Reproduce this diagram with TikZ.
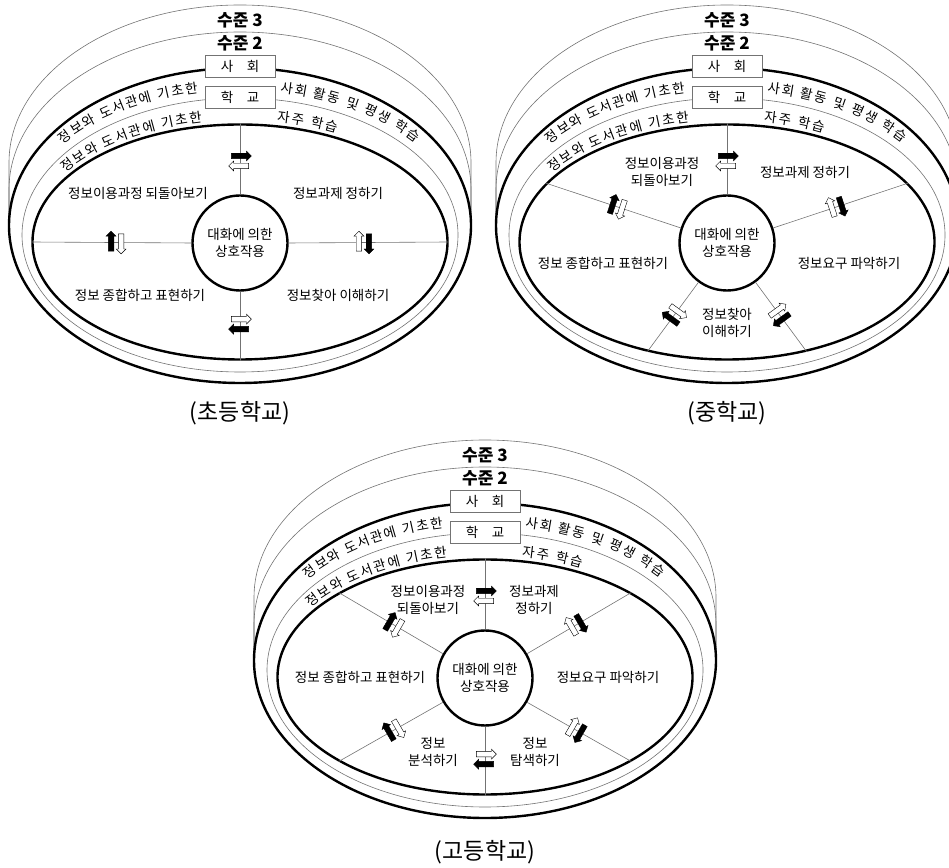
\documentclass[tikz,border=0pt]{standalone}
\usepackage{fontspec}
\setmainfont{Noto Sans CJK KR}
\usetikzlibrary{shapes.geometric,shapes.arrows,decorations.text,calc}

\begin{document}
\begin{tikzpicture}[x=1pt, y=1pt,
    thickline/.style={line width=2.4pt},
    thinline/.style={line width=0.6pt, draw=black!55},
    spoke/.style={line width=0.6pt, black!55},
    levelbox/.style={draw=black!55, line width=0.6pt, fill=white, minimum width=70pt, minimum height=22pt, inner sep=0pt, font=\fontsize{13.5}{15}\selectfont},
    leveltext/.style={font=\fontsize{17}{19}\selectfont\bfseries, inner sep=0pt},
    stage/.style={font=\fontsize{13.5}{17}\selectfont, align=center, inner sep=0pt},
    blackarrow/.style={single arrow, draw=black, fill=black, line width=0.4pt, minimum height=20pt, inner xsep=0pt, inner ysep=2.5pt, single arrow head extend=2.2pt},
    whitearrow/.style={blackarrow, fill=white},
    curvetext/.style={decorate, decoration={text along path, text align=fit to path, text={|\fontsize{13.5}{15}\selectfont|#1}}},
    schoolname/.style={font=\fontsize{23}{26}\selectfont},
    rings/.pic={
        % Level 3 and level 2 rims
        \draw[thinline] (-231,16.5) -- (-231,79.5) arc[start angle=180, end angle=0, x radius=231pt, y radius=157.5pt] -- (231,16.5);
        \draw[thinline] (-231,16.5) -- (-231,52.5) arc[start angle=180, end angle=0, x radius=231pt, y radius=157.5pt] -- (231,16.5);
        % Ellipses
        \node[draw, thickline, ellipse, minimum width=462pt, minimum height=315pt, inner sep=0pt] (-out) at (0,16.5) {};
        \node[thinline, ellipse, minimum width=436pt, minimum height=274pt, inner sep=0pt] (-mid) at (0,7) {};
        \node[draw, thickline, ellipse, minimum width=415pt, minimum height=235pt, inner sep=0pt] (-in) at (0,0) {};
        % Curved labels
        \path[curvetext={정보와 도서관에 기초한}] ($(0,12)+(142.2:224 and 140)$) arc[start angle=142.2, end angle=100.8, x radius=224pt, y radius=140pt];
        \path[curvetext={사회 활동 및 평생 학습}] ($(0,12)+(79.7:224 and 140)$) arc[start angle=79.7, end angle=38.6, x radius=224pt, y radius=140pt];
        \path[curvetext={정보와 도서관에 기초한}] (145.6:212 and 122) arc[start angle=145.6, end angle=100.3, x radius=212pt, y radius=122pt];
        \path[curvetext={자주 학습}] (80:212 and 122) arc[start angle=80, end angle=63, x radius=212pt, y radius=122pt];
        % Levels
        \node[levelbox] (-soc) at (0,176) {사\hspace{1em}회};
        \node[levelbox] (-sch) at (0,144.5) {학\hspace{1em}교};
        \node[leveltext] (-lv3) at (0,222) {수준 3};
        \node[leveltext] (-lv2) at (0,199) {수준 2};
        % Centre
        \node[draw, thickline, circle, minimum size=95pt, stage] (-cc) at (0,-1) {대화에 의한\\상호작용};
    }
]
    \useasboundingbox (0,0) rectangle (949,867);

    % Elementary school
    \pic (e) at (240,625) {rings};
    \foreach \a in {90,0,270,180} {
        \draw[spoke] (e-cc.\a) -- (e-in.\a) coordinate[pos=0.47] (e-m\a);
        \node[blackarrow, rotate=\a-90] (e-b\a) at ($(e-m\a)+(\a:5)$) {};
        \node[whitearrow, rotate=\a+90] (e-w\a) at ($(e-m\a)+(\a:-5)$) {};
    }
    \node[stage] (e-l1) at ($(e-in.center)+(-102,49)$) {정보이용과정 되돌아보기};
    \node[stage] (e-l2) at ($(e-in.center)+(98,49)$) {정보과제 정하기};
    \node[stage] (e-l3) at ($(e-in.center)+(-100,-53)$) {정보 종합하고 표현하기};
    \node[stage] (e-l4) at ($(e-in.center)+(98,-53)$) {정보찾아 이해하기};
    \node[schoolname] (e-name) at (240,454) {(초등학교)};

    % Middle school
    \pic (m) at (727,625) {rings};
    \foreach \a in {90,18,306,234,162} {
        \draw[spoke] (m-cc.\a) -- (m-in.\a) coordinate[pos=0.47] (m-m\a);
        \node[blackarrow, rotate=\a-90] (m-b\a) at ($(m-m\a)+(\a:5)$) {};
        \node[whitearrow, rotate=\a+90] (m-w\a) at ($(m-m\a)+(\a:-5)$) {};
    }
    \node[stage] (m-l1) at ($(m-in.center)+(-65,70)$) {정보이용과정\\되돌아보기};
    \node[stage] (m-l2) at ($(m-in.center)+(78,70)$) {정보과제 정하기};
    \node[stage] (m-l3) at ($(m-in.center)+(-124,-21)$) {정보 종합하고 표현하기};
    \node[stage] (m-l4) at ($(m-in.center)+(122,-21)$) {정보요구 파악하기};
    \node[stage] (m-l5) at ($(m-in.center)+(0,-81)$) {정보찾아\\이해하기};
    \node[schoolname] (m-name) at (727,454) {(중학교)};

    % High school
    \pic (h) at (485,190) {rings};
    \foreach \a in {90,30,330,270,210,150} {
        \draw[spoke] (h-cc.\a) -- (h-in.\a) coordinate[pos=0.47] (h-m\a);
        \node[blackarrow, rotate=\a-90] (h-b\a) at ($(h-m\a)+(\a:5)$) {};
        \node[whitearrow, rotate=\a+90] (h-w\a) at ($(h-m\a)+(\a:-5)$) {};
    }
    \node[stage] (h-l1) at ($(h-in.center)+(-57,77)$) {정보이용과정\\되돌아보기};
    \node[stage] (h-l2) at ($(h-in.center)+(49,77)$) {정보과제\\정하기};
    \node[stage] (h-l3) at ($(h-in.center)+(-125,0)$) {정보 종합하고 표현하기};
    \node[stage] (h-l4) at ($(h-in.center)+(123,0)$) {정보요구 파악하기};
    \node[stage] (h-l5) at ($(h-in.center)+(-52,-75)$) {정보\\분석하기};
    \node[stage] (h-l6) at ($(h-in.center)+(50,-75)$) {정보\\탐색하기};
    \node[schoolname] (h-name) at (485,15) {(고등학교)};

\end{tikzpicture}
\end{document}
